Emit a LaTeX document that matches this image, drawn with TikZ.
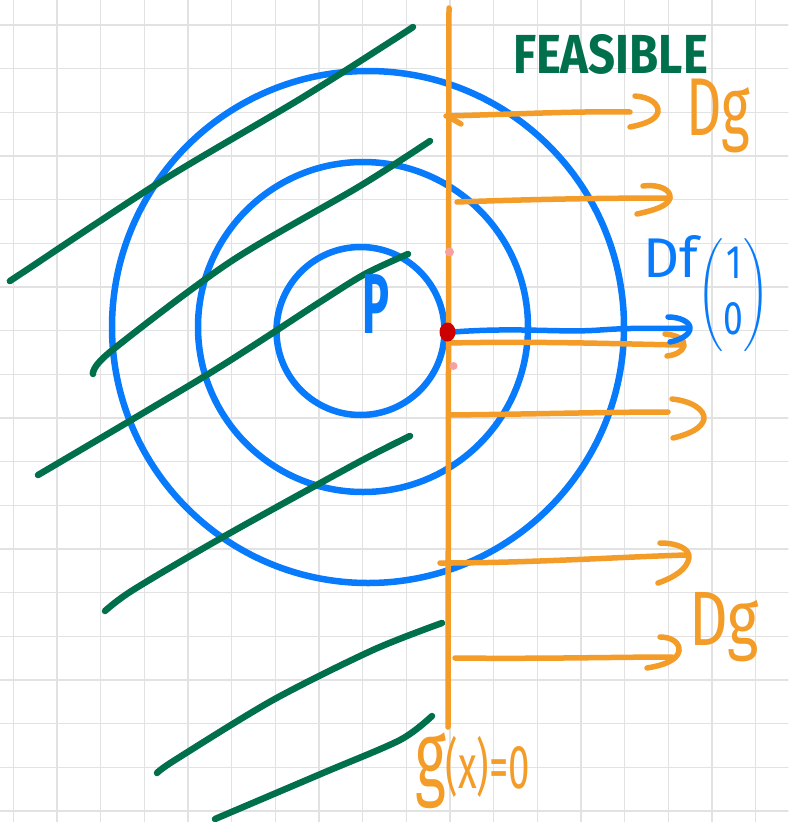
\documentclass[tikz,border=0pt]{standalone}
\usepackage{fontspec}
\usepackage{graphicx}
\newfontfamily\hand{Fira Sans}
\definecolor{gridc}{RGB}{226,226,226}
\definecolor{pblue}{RGB}{8,122,252}
\definecolor{pgreen}{RGB}{0,112,76}
\definecolor{porange}{RGB}{244,156,40}
\definecolor{pred}{RGB}{204,0,0}
\definecolor{ppink}{RGB}{246,160,160}
\tikzset{
  gridline/.style={draw=gridc, line width=1.3pt},
  ring/.style={draw=pblue, line width=6.5pt},
  hatch/.style={draw=pgreen, line width=6.5pt},
  oline/.style={draw=porange, line width=5.5pt},
  bline/.style={draw=pblue, line width=5.5pt},
  lbl/.style={inner sep=0pt, outer sep=0pt, anchor=base west},
}
\begin{document}
\begin{tikzpicture}[x=1pt,y=-1pt,line cap=round,line join=round]
\useasboundingbox (0,0) rectangle (788,822);
\fill[white] (0,0) rectangle (788,822);
% grid paper
\foreach \i in {0,...,17} \draw[gridline] ({13.3+43.67*\i},0) -- ({13.3+43.67*\i},822);
\foreach \j in {0,...,18} \draw[gridline] (0,{25+43.67*\j}) -- (788,{25+43.67*\j});

% level circles
\draw[ring] (368,327) circle[radius=256pt];
\draw[ring] (363,327) circle[radius=165pt];
\draw[ring] (360.5,331) circle[radius=84pt];

% green hatching (infeasible side)
\draw[hatch] plot[smooth] coordinates {(13,279) (22,273) (160,182) (300,99) (390,42) (413,27)};
\draw[hatch] plot[smooth] coordinates {(93,374) (110,352) (230,262) (360,186) (430,141)};
\draw[hatch] plot[smooth] coordinates {(38,475) (210,373) (320,302) (365,274) (408,254)};
\draw[hatch] plot[smooth] coordinates {(105,611) (133,590) (223,537) (357,463) (410,436)};
\draw[hatch] plot[smooth] coordinates {(157,773) (175,760) (273,700) (373,650) (442,623)};
\draw[hatch] plot[smooth] coordinates {(215,819) (323,773) (400,740) (432,716)};

% constraint line g(x)=0
\coordinate (gtop) at (449,8);
\coordinate (gbot) at (448,727);
\draw[oline] (gtop) -- (gbot);

% the point P
\node[lbl, text=pblue] (P) at (362,333) {\resizebox{27pt}{\height}{\hand\bfseries\fontsize{85}{85}\selectfont P}};

% gradient arrows Dg
\coordinate (a1s) at (446,116); \coordinate (a1e) at (630,112);
\draw[oline] (a1s) .. controls (520,114) and (580,111) .. (a1e);
\draw[oline] (449,117) -- (461,124);
\draw[oline] (635,96) .. controls (650,97) and (659,104) .. (658,112) .. controls (656,120) and (645,124) .. (630,127);

\coordinate (a2s) at (457,202); \coordinate (a2e) at (670,198);
\draw[oline] (a2s) .. controls (540,199) and (610,198) .. (a2e);
\draw[oline] (643,186) .. controls (660,184) and (671,190) .. (670,198) .. controls (668,206) and (655,210) .. (637,214);

\coordinate (a3s) at (449,343); \coordinate (a3e) at (680,345);
\draw[oline] (a3s) .. controls (540,341) and (620,344) .. (a3e);
\draw[oline] (665,334) .. controls (678,335) and (685,340) .. (684,346) .. controls (682,352) and (675,355) .. (667,356);

\coordinate (a4s) at (450,415); \coordinate (a4e) at (668,412);
\draw[oline] (a4s) .. controls (540,414) and (610,412) .. (a4e);
\draw[oline] (672,399) .. controls (692,401) and (705,410) .. (704,419) .. controls (702,428) and (690,434) .. (673,438);

\coordinate (a5s) at (440,563); \coordinate (a5e) at (686,555);
\draw[oline] (a5s) .. controls (530,563) and (620,557) .. (a5e);
\draw[oline] (660,543) .. controls (678,543) and (690,549) .. (689,558) .. controls (687,569) and (675,577) .. (658,583);

\coordinate (a6s) at (455,658); \coordinate (a6e) at (672,657);
\draw[oline] (a6s) .. controls (540,659) and (620,657) .. (a6e);
\draw[oline] (660,637) .. controls (672,637) and (680,643) .. (679,651) .. controls (677,660) and (665,665) .. (647,668);

% gradient of f at the optimum
\coordinate (xs) at (453,332); \coordinate (xe) at (688,328);
\draw[bline] (xs) .. controls (520,327) and (560,333) .. (600,330) .. controls (640,327) and (670,329) .. (xe);
\draw[bline] (668,317) .. controls (680,317) and (690,322) .. (690,328) .. controls (690,335) and (680,340) .. (670,342);

% optimum and neighbouring points
\fill[pred] (447.5,332) ellipse[x radius=8pt, y radius=9.5pt];
\fill[ppink] (449.5,252) circle[radius=4.5pt];
\fill[ppink] (453.5,366) circle[radius=4pt];

% labels
\node[lbl, text=pgreen] (feas) at (513,73) {\resizebox{195pt}{\height}{\hand\bfseries\fontsize{55}{55}\selectfont FEASIBLE}};
\node[lbl, text=porange] (dg1) at (686,135) {\resizebox{64pt}{\height}{\hand\fontsize{82}{82}\selectfont Dg}};
\node[lbl, text=porange] (dg2) at (689,645) {\resizebox{70pt}{\height}{\hand\fontsize{77}{77}\selectfont Dg}};
\node[lbl, text=pblue] (df) at (643,277) {\hand\fontsize{56}{56}\selectfont Df\raisebox{-30pt}{\resizebox*{72pt}{113pt}{\fontsize{10}{12}\selectfont$\left(\begin{array}{@{}c@{}}\mbox{1}\\\mbox{0}\end{array}\right)$}}};
\node[lbl, anchor=north west, text=porange] (gx) at (415,733) {\resizebox*{115pt}{76pt}{\hand\fontsize{40}{40}\selectfont g\fontsize{26}{26}\selectfont (x)=0}};
\end{tikzpicture}
\end{document}
